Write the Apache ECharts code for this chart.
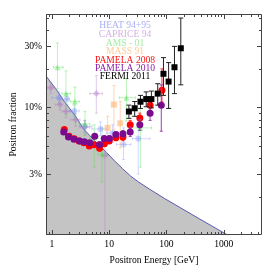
<!DOCTYPE html>
<html><head><meta charset="utf-8">
<script src="https://cdn.jsdelivr.net/npm/echarts@6/dist/echarts.min.js"></script>
<style>html,body{margin:0;padding:0;background:#fff}#c{width:266px;height:270px}</style>
</head><body><div id="c"></div>
<script>
// ---------- data ----------
const xMajorTicks = [1, 10, 100, 1000];
const xTickLabels = ['1', '10', '100', '1000'];
const xMinorTicks = [0.8, 0.9, 2, 3, 4, 5, 6, 7, 8, 9, 20, 30, 40, 50, 60, 70, 80, 90,
  200, 300, 400, 500, 600, 700, 800, 900, 2000, 3000, 4000];
const yMajorTicks = [0.03, 0.1, 0.3];
const yTickLabels = ['3%', '10%', '30%'];
const yMinorTicks = [0.02, 0.04, 0.05, 0.06, 0.07, 0.08, 0.09, 0.2, 0.4, 0.5];

const legendNames = ['HEAT 94+95', 'CAPRICE 94', 'AMS - 01', 'MASS 91', 'PAMELA 2008', 'PAMELA 2010', 'FERMI 2011'];

// secondary-production band (upper edge)
const curveE = [0.79, 1.167, 1.65, 2.52, 3.57, 5.67, 9.01, 12.4, 17.2, 23.6, 32.2, 51.1, 91.2, 290, 1162];
const curveF = [0.176, 0.140, 0.111, 0.0868, 0.0677, 0.0543, 0.0443, 0.0381, 0.033, 0.029, 0.0261, 0.0228, 0.0194, 0.01432, 0.01];

const heatE = [1.33, 1.83, 2.46, 3.71, 7.06, 11.5, 17.8, 32.2];
const heatF = [0.119, 0.116, 0.0937, 0.071, 0.0677, 0.063, 0.0512, 0.0568];
const heatLo = [0.107, 0.105, 0.085, 0.064, 0.060, 0.053, 0.039, 0.030];
const heatHi = [0.132, 0.128, 0.104, 0.079, 0.077, 0.073, 0.069, 0.082];
const heatEmin = [1.0, 1.5, 2.0, 3.0, 5.0, 8.9, 13.4, 25.5];
const heatEmax = [1.5, 2.0, 3.0, 5.0, 8.9, 14.8, 23.9, 51.6];

const capE = [0.96, 1.38, 1.76, 2.59, 3.81, 5.97, 8.44];
const capF = [0.142, 0.105, 0.0927, 0.0798, 0.0698, 0.128, 0.042];
const capLo = [0.128, 0.095, 0.083, 0.071, 0.061, 0.090, 0.005];
const capHi = [0.157, 0.116, 0.103, 0.089, 0.079, 0.177, 0.058];
const capEmin = [0.84, 1.15, 1.5, 2.1, 3.1, 4.6, 7.6];
const capEmax = [1.1, 1.5, 2.1, 3.1, 4.6, 7.6, 9.4];

const amsE = [1.25, 1.76, 2.52, 3.78, 5.5, 7.5, 20.0, 35.0];
const amsF = [0.206, 0.128, 0.111, 0.074, 0.058, 0.043, 0.119, 0.069];
const amsLo = [0.14, 0.087, 0.080, 0.060, 0.034, 0.026, 0.078, 0.034];
const amsHi = [0.32, 0.193, 0.144, 0.093, 0.073, 0.069, 0.167, 0.124];
const amsEmin = [1.07, 1.5, 2.1, 3.0, 4.6, 6.4, 15.0, 23.6];
const amsEmax = [1.57, 2.1, 3.0, 4.6, 6.4, 8.8, 28.6, 55.0];

const massE = [9.4, 12.1, 15.6];
const massF = [0.069, 0.105, 0.075];
const massLo = [0.055, 0.067, 0.048];
const massHi = [0.085, 0.148, 0.111];

const p08E = [1.65, 2.0, 2.46, 2.98, 3.61, 4.5, 5.46, 6.8, 8.24, 10.0, 13.1, 17.4, 23.3, 34.3, 51.8, 83.4];
const p08F = [0.067, 0.0594, 0.0568, 0.0545, 0.0528, 0.0498, 0.051, 0.0477, 0.0519, 0.0545, 0.0578, 0.0585, 0.0731, 0.0823, 0.104, 0.136];
const p08Lo = [0.0655, 0.058, 0.0555, 0.053, 0.0513, 0.048, 0.049, 0.0455, 0.0495, 0.052, 0.0548, 0.0548, 0.068, 0.075, 0.094, 0.11];
const p08Hi = [0.0685, 0.061, 0.058, 0.056, 0.0543, 0.0516, 0.053, 0.050, 0.0545, 0.0572, 0.061, 0.0625, 0.079, 0.090, 0.115, 0.20];

const p10E = [1.61, 1.95, 2.43, 3.06, 3.71, 4.6, 5.6, 6.8, 8.2, 10.1, 13.1, 17.4, 23.3, 34.3, 51.8, 81.2];
const p10F = [0.0642, 0.0585, 0.0561, 0.0545, 0.0538, 0.0528, 0.0594, 0.0512, 0.057, 0.057, 0.0612, 0.062, 0.0642, 0.0731, 0.0899, 0.104];
const p10Lo = [0.0628, 0.0572, 0.0548, 0.0532, 0.0524, 0.0513, 0.0575, 0.0494, 0.0548, 0.0546, 0.0584, 0.0585, 0.059, 0.066, 0.079, 0.065];
const p10Hi = [0.0656, 0.0598, 0.0574, 0.0558, 0.0552, 0.0543, 0.0613, 0.053, 0.0592, 0.0594, 0.064, 0.0655, 0.070, 0.080, 0.100, 0.15];

const fermiE = [22.1, 27.9, 35.2, 44.3, 54.6, 70.4, 88.7, 109, 138, 178];
const fermiF = [0.0927, 0.0983, 0.1106, 0.116, 0.116, 0.128, 0.183, 0.159, 0.206, 0.29];
const fermiLo = [0.082, 0.085, 0.098, 0.101, 0.099, 0.104, 0.124, 0.098, 0.128, 0.15];
const fermiHi = [0.104, 0.111, 0.124, 0.132, 0.134, 0.153, 0.245, 0.224, 0.30, 0.50];

// ---------- build ----------
const FONT = '"Liberation Serif","Times New Roman",serif';
const FS = 9.6;
const legendColors = ['#a9aff2', '#d4b2e2', '#a4eea4', '#ffcb98', '#ff1111', '#8a1ca2', '#000000'];

function rows(E, F, lo, hi, emin, emax) {
  return E.map((e, i) => [e, F[i], lo[i], hi[i], emin ? emin[i] : e, emax ? emax[i] : e]);
}
function pts(E, F) { return E.map((e, i) => [e, F[i]]); }

function errSeries(data, color, lw, cap, z) {
  return {
    type: 'custom', data, clip: true, z, silent: true,
    renderItem(params, api) {
      const e = api.value(0), f = api.value(1), lo = api.value(2), hi = api.value(3), a = api.value(4), b = api.value(5);
      const c = api.coord([e, f]);
      const yl = api.coord([e, lo])[1], yh = api.coord([e, hi])[1];
      const st = { stroke: color, lineWidth: lw };
      const ch = [
        { type: 'line', shape: { x1: c[0], y1: yl, x2: c[0], y2: yh }, style: st },
        { type: 'line', shape: { x1: c[0] - cap, y1: yl, x2: c[0] + cap, y2: yl }, style: st },
        { type: 'line', shape: { x1: c[0] - cap, y1: yh, x2: c[0] + cap, y2: yh }, style: st }
      ];
      if (a !== b) {
        const xa = api.coord([a, f])[0], xb = api.coord([b, f])[0];
        ch.push({ type: 'line', shape: { x1: xa, y1: c[1], x2: xb, y2: c[1] }, style: st });
        ch.push({ type: 'line', shape: { x1: xa, y1: c[1] - cap, x2: xa, y2: c[1] + cap }, style: st });
        ch.push({ type: 'line', shape: { x1: xb, y1: c[1] - cap, x2: xb, y2: c[1] + cap }, style: st });
      }
      return { type: 'group', children: ch };
    }
  };
}
function markSeries(data, symbol, size, color, z) {
  return { type: 'scatter', data, symbol, symbolSize: size, itemStyle: { color, opacity: 1 }, z, silent: true, clip: true };
}

const axisStyle = '#444';
const xTickData = xMinorTicks.map(v => [v, 0.1, 0]).concat(xMajorTicks.map(v => [v, 0.1, 1]));
const yTickData = yMinorTicks.map(v => [1, v, 0]).concat(yMajorTicks.map(v => [1, v, 1]));

const series = [
  {
    type: 'line', data: pts(curveE, curveF), symbol: 'none', silent: true, z: 1,
    lineStyle: { color: '#5a5ab6', width: 1 },
    areaStyle: { color: '#c4c4c4', origin: 'start', opacity: 1 }
  },
  errSeries(rows(capE, capF, capLo, capHi, capEmin, capEmax), 'rgba(180,120,200,0.38)', 1, 1.5, 2),
  markSeries(pts(capE, capF), 'diamond', 7, 'rgba(180,120,200,0.42)', 3),
  errSeries(rows(heatE, heatF, heatLo, heatHi, heatEmin, heatEmax), 'rgba(110,130,250,0.3)', 1, 1.5, 2),
  markSeries(pts(heatE, heatF), 'circle', 6, 'rgba(110,130,250,0.32)', 3),
  errSeries(rows(amsE, amsF, amsLo, amsHi, amsEmin, amsEmax), 'rgba(80,225,80,0.4)', 1, 1.5, 2),
  markSeries(pts(amsE, amsF), 'triangle', 6, 'rgba(80,225,80,0.45)', 3),
  errSeries(rows(massE, massF, massLo, massHi), 'rgba(255,165,90,0.45)', 1, 1.5, 2),
  markSeries(pts(massE, massF), 'rect', 6, 'rgba(255,165,90,0.5)', 3),
  errSeries(rows(p08E, p08F, p08Lo, p08Hi), '#ff3030', 1, 1.5, 4),
  markSeries(pts(p08E, p08F), 'circle', 7, '#ff0000', 5),
  errSeries(rows(p10E, p10F, p10Lo, p10Hi), '#9a40b0', 1, 1.5, 6),
  markSeries(pts(p10E, p10F), 'circle', 7, '#7a0a8e', 7),
  errSeries(rows(fermiE, fermiF, fermiLo, fermiHi), '#222', 1, 2.5, 8),
  markSeries(pts(fermiE, fermiF), 'rect', 6, '#000', 9),
  // x ticks (bottom + top) and frame
  {
    type: 'custom', data: xTickData, z: 20, silent: true,
    renderItem(params, api) {
      const cs = params.coordSys;
      const x = Math.round(api.coord([api.value(0), 0.1])[0]) + 0.5;
      const L = api.value(2) ? 5 : 3;
      const bot = cs.y + cs.height, top = cs.y;
      const st = { stroke: axisStyle, lineWidth: 1 };
      const ch = [
        { type: 'line', shape: { x1: x, y1: bot, x2: x, y2: bot - L }, style: st },
        { type: 'line', shape: { x1: x, y1: top, x2: x, y2: top + L }, style: st }
      ];
      if (params.dataIndex === 0) {
        ch.push({ type: 'rect', shape: { x: cs.x + 0.5, y: cs.y + 0.5, width: cs.width - 1, height: cs.height - 1 },
          style: { fill: 'none', stroke: axisStyle, lineWidth: 1 } });
      }
      return { type: 'group', children: ch };
    }
  },
  // y ticks (left + right)
  {
    type: 'custom', data: yTickData, z: 20, silent: true,
    renderItem(params, api) {
      const cs = params.coordSys;
      const y = Math.round(api.coord([1, api.value(1)])[1]) + 0.5;
      const L = api.value(2) ? 5 : 3;
      const st = { stroke: axisStyle, lineWidth: 1 };
      return { type: 'group', children: [
        { type: 'line', shape: { x1: cs.x, y1: y, x2: cs.x + L, y2: y }, style: st },
        { type: 'line', shape: { x1: cs.x + cs.width, y1: y, x2: cs.x + cs.width - L, y2: y }, style: st }
      ] };
    }
  },
  // x tick labels
  {
    type: 'custom', data: xMajorTicks.map((v, i) => [v, 0.1, i]), z: 20, silent: true,
    renderItem(params, api) {
      const cs = params.coordSys;
      const x = api.coord([api.value(0), 0.1])[0];
      return { type: 'text', style: { text: xTickLabels[api.value(2)], x, y: cs.y + cs.height + 9,
        align: 'center', verticalAlign: 'middle', font: FS + 'px ' + FONT, fill: '#000' } };
    }
  },
  // y tick labels
  {
    type: 'custom', data: yMajorTicks.map((v, i) => [1, v, i]), z: 20, silent: true,
    renderItem(params, api) {
      const cs = params.coordSys;
      const y = api.coord([1, api.value(1)])[1];
      return { type: 'text', style: { text: yTickLabels[api.value(2)], x: cs.x - 4, y,
        align: 'right', verticalAlign: 'middle', font: FS + 'px ' + FONT, fill: '#000' } };
    }
  }
];

const legendY = [25, 34, 43, 51.5, 60, 68, 76.5];
const graphic = legendNames.map((n, i) => ({
  type: 'text', x: 125, y: legendY[i], z: 30, silent: true,
  style: { text: n, align: 'center', verticalAlign: 'middle', font: FS + 'px ' + FONT, fill: legendColors[i] }
}));

const chart = echarts.init(document.getElementById('c'), null, { renderer: 'canvas', width: 266, height: 270 });
chart.setOption({
  animation: false,
  backgroundColor: '#fff',
  grid: { left: 37, right: 4, top: 14, bottom: 31, show: false },
  xAxis: {
    type: 'log', logBase: 10, min: 0.79, max: 4650,
    axisLine: { show: false }, axisTick: { show: false }, axisLabel: { show: false }, splitLine: { show: false },
    name: 'Positron Energy [GeV]', nameLocation: 'middle', nameGap: 20,
    nameTextStyle: { fontFamily: FONT, fontSize: FS, color: '#000' }
  },
  yAxis: {
    type: 'log', logBase: 10, min: 0.01, max: 0.538,
    axisLine: { show: false }, axisTick: { show: false }, axisLabel: { show: false }, splitLine: { show: false },
    name: 'Positron fraction', nameLocation: 'middle', nameGap: 28, nameRotate: 90,
    nameTextStyle: { fontFamily: FONT, fontSize: FS, color: '#000' }
  },
  graphic,
  series
});
</script>
</body></html>
